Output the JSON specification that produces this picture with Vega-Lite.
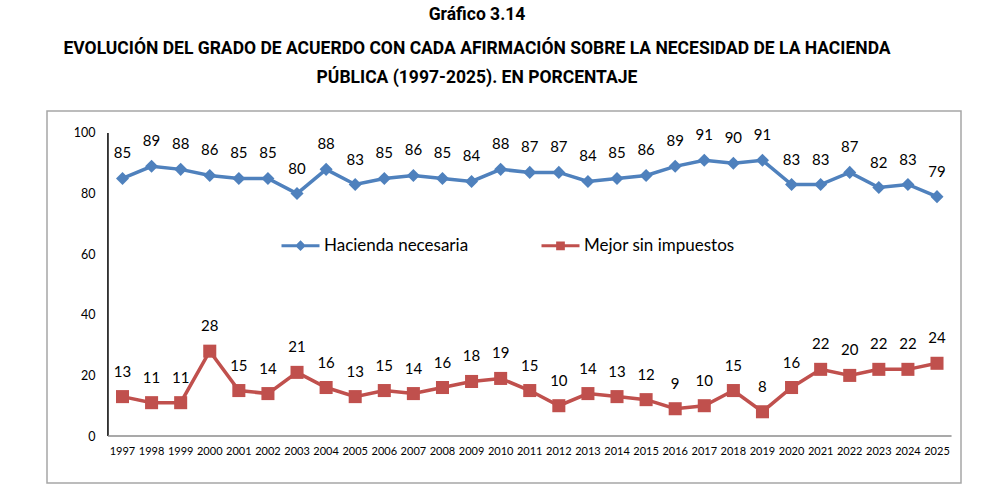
{
  "$schema": "https://vega.github.io/schema/vega-lite/v6.json",
  "autosize": "none",
  "width": 914,
  "height": 372,
  "padding": {"left": 47, "top": 111, "right": 45, "bottom": 12},
  "background": "white",
  "title": {
    "text": "Gráfico 3.14",
    "subtitle": [
      "EVOLUCIÓN DEL GRADO DE ACUERDO CON CADA AFIRMACIÓN SOBRE LA NECESIDAD DE LA HACIENDA",
      "PÚBLICA (1997-2025). EN PORCENTAJE"
    ],
    "anchor": "middle",
    "dx": -27,
    "offset": 25,
    "font": "Roboto",
    "fontSize": 17.5,
    "fontWeight": "bold",
    "color": "#000000",
    "subtitleFont": "Roboto",
    "subtitleFontSize": 17.5,
    "subtitleFontWeight": "bold",
    "subtitleColor": "#000000",
    "subtitlePadding": 16,
    "subtitleLineHeight": 29
  },
  "data": {
    "values": [
      {"year": 1997, "serie": "Hacienda necesaria", "value": 85},
      {"year": 1998, "serie": "Hacienda necesaria", "value": 89},
      {"year": 1999, "serie": "Hacienda necesaria", "value": 88},
      {"year": 2000, "serie": "Hacienda necesaria", "value": 86},
      {"year": 2001, "serie": "Hacienda necesaria", "value": 85},
      {"year": 2002, "serie": "Hacienda necesaria", "value": 85},
      {"year": 2003, "serie": "Hacienda necesaria", "value": 80},
      {"year": 2004, "serie": "Hacienda necesaria", "value": 88},
      {"year": 2005, "serie": "Hacienda necesaria", "value": 83},
      {"year": 2006, "serie": "Hacienda necesaria", "value": 85},
      {"year": 2007, "serie": "Hacienda necesaria", "value": 86},
      {"year": 2008, "serie": "Hacienda necesaria", "value": 85},
      {"year": 2009, "serie": "Hacienda necesaria", "value": 84},
      {"year": 2010, "serie": "Hacienda necesaria", "value": 88},
      {"year": 2011, "serie": "Hacienda necesaria", "value": 87},
      {"year": 2012, "serie": "Hacienda necesaria", "value": 87},
      {"year": 2013, "serie": "Hacienda necesaria", "value": 84},
      {"year": 2014, "serie": "Hacienda necesaria", "value": 85},
      {"year": 2015, "serie": "Hacienda necesaria", "value": 86},
      {"year": 2016, "serie": "Hacienda necesaria", "value": 89},
      {"year": 2017, "serie": "Hacienda necesaria", "value": 91},
      {"year": 2018, "serie": "Hacienda necesaria", "value": 90},
      {"year": 2019, "serie": "Hacienda necesaria", "value": 91},
      {"year": 2020, "serie": "Hacienda necesaria", "value": 83},
      {"year": 2021, "serie": "Hacienda necesaria", "value": 83},
      {"year": 2022, "serie": "Hacienda necesaria", "value": 87},
      {"year": 2023, "serie": "Hacienda necesaria", "value": 82},
      {"year": 2024, "serie": "Hacienda necesaria", "value": 83},
      {"year": 2025, "serie": "Hacienda necesaria", "value": 79},
      {"year": 1997, "serie": "Mejor sin impuestos", "value": 13},
      {"year": 1998, "serie": "Mejor sin impuestos", "value": 11},
      {"year": 1999, "serie": "Mejor sin impuestos", "value": 11},
      {"year": 2000, "serie": "Mejor sin impuestos", "value": 28},
      {"year": 2001, "serie": "Mejor sin impuestos", "value": 15},
      {"year": 2002, "serie": "Mejor sin impuestos", "value": 14},
      {"year": 2003, "serie": "Mejor sin impuestos", "value": 21},
      {"year": 2004, "serie": "Mejor sin impuestos", "value": 16},
      {"year": 2005, "serie": "Mejor sin impuestos", "value": 13},
      {"year": 2006, "serie": "Mejor sin impuestos", "value": 15},
      {"year": 2007, "serie": "Mejor sin impuestos", "value": 14},
      {"year": 2008, "serie": "Mejor sin impuestos", "value": 16},
      {"year": 2009, "serie": "Mejor sin impuestos", "value": 18},
      {"year": 2010, "serie": "Mejor sin impuestos", "value": 19},
      {"year": 2011, "serie": "Mejor sin impuestos", "value": 15},
      {"year": 2012, "serie": "Mejor sin impuestos", "value": 10},
      {"year": 2013, "serie": "Mejor sin impuestos", "value": 14},
      {"year": 2014, "serie": "Mejor sin impuestos", "value": 13},
      {"year": 2015, "serie": "Mejor sin impuestos", "value": 12},
      {"year": 2016, "serie": "Mejor sin impuestos", "value": 9},
      {"year": 2017, "serie": "Mejor sin impuestos", "value": 10},
      {"year": 2018, "serie": "Mejor sin impuestos", "value": 15},
      {"year": 2019, "serie": "Mejor sin impuestos", "value": 8},
      {"year": 2020, "serie": "Mejor sin impuestos", "value": 16},
      {"year": 2021, "serie": "Mejor sin impuestos", "value": 22},
      {"year": 2022, "serie": "Mejor sin impuestos", "value": 20},
      {"year": 2023, "serie": "Mejor sin impuestos", "value": 22},
      {"year": 2024, "serie": "Mejor sin impuestos", "value": 22},
      {"year": 2025, "serie": "Mejor sin impuestos", "value": 24}
    ]
  },
  "layer": [
    {
      "data": {"values": [{}]},
      "mark": {"type": "rule", "color": "#000000", "strokeWidth": 1.5},
      "encoding": {
        "x": {
          "datum": 1996.5,
          "type": "quantitative",
          "scale": {"domain": [1994.405, 2025.825], "nice": false, "zero": false},
          "axis": null
        },
        "y": {
          "datum": 0,
          "type": "quantitative",
          "scale": {"domain": [-15.51, 107.26], "nice": false, "zero": false},
          "axis": {
            "values": [0, 20, 40, 60, 80, 100],
            "offset": -50,
            "domain": false,
            "ticks": false,
            "tickSize": 0,
            "grid": false,
            "labelPadding": 2,
            "labelOverlap": false,
            "labelFont": "Lato",
            "labelFontSize": 12.5,
            "labelColor": "#000000",
            "title": null
          }
        },
        "y2": {"datum": 100}
      }
    },
    {
      "data": {"values": [{}]},
      "mark": {"type": "rule", "color": "#8c8c8c", "strokeWidth": 1.5},
      "encoding": {
        "x": {"datum": 1996.5, "type": "quantitative"},
        "x2": {"datum": 2025.5},
        "y": {"datum": 0, "type": "quantitative"}
      }
    },
    {
      "transform": [{"filter": "datum.serie === 'Hacienda necesaria'"}],
      "mark": {"type": "text", "baseline": "middle", "font": "Lato", "fontSize": 11, "color": "#000000"},
      "encoding": {
        "x": {"field": "year", "type": "quantitative"},
        "y": {"datum": -5.3, "type": "quantitative"},
        "text": {"field": "year", "type": "quantitative", "format": "d"}
      }
    },
    {
      "mark": {"type": "line", "strokeWidth": 3.5},
      "encoding": {
        "x": {"field": "year", "type": "quantitative"},
        "y": {"field": "value", "type": "quantitative"},
        "color": {
          "field": "serie",
          "type": "nominal",
          "scale": {
            "domain": ["Hacienda necesaria", "Mejor sin impuestos"],
            "range": ["#4F81BD", "#C0504D"]
          },
          "legend": {
            "orient": "none",
            "legendX": 233,
            "legendY": 114,
            "direction": "horizontal",
            "title": null,
            "columnPadding": 66,
            "labelFont": "Lato",
            "labelFontSize": 17,
            "labelColor": "#000000",
            "labelOffset": 3,
            "symbolSize": 1444,
            "encode": {
              "symbols": {
                "update": {
                  "shape": {"signal": "datum.value === 'Hacienda necesaria' ? 'M-1,0H1M0,-0.17L0.17,0L0,0.17L-0.17,0Z' : 'M-1,0H1M-0.15,-0.15H0.15V0.15H-0.15Z'"},
                  "fill": {"signal": "datum.value === 'Hacienda necesaria' ? '#4F81BD' : '#C0504D'"},
                  "stroke": {"signal": "datum.value === 'Hacienda necesaria' ? '#4F81BD' : '#C0504D'"},
                  "strokeWidth": {"value": 3}
                }
              }
            }
          }
        }
      }
    },
    {
      "transform": [{"filter": "datum.serie === 'Hacienda necesaria'"}],
      "mark": {"type": "point", "shape": "diamond", "filled": true, "opacity": 1, "size": 170},
      "encoding": {
        "x": {"field": "year", "type": "quantitative"},
        "y": {"field": "value", "type": "quantitative"},
        "color": {"field": "serie", "type": "nominal", "legend": null}
      }
    },
    {
      "transform": [{"filter": "datum.serie === 'Mejor sin impuestos'"}],
      "mark": {"type": "point", "shape": "square", "filled": true, "opacity": 1, "size": 170},
      "encoding": {
        "x": {"field": "year", "type": "quantitative"},
        "y": {"field": "value", "type": "quantitative"},
        "color": {"field": "serie", "type": "nominal", "legend": null}
      }
    },
    {
      "mark": {"type": "text", "dy": -25, "font": "Lato", "fontSize": 15, "color": "#000000"},
      "encoding": {
        "x": {"field": "year", "type": "quantitative"},
        "y": {"field": "value", "type": "quantitative"},
        "text": {"field": "value", "type": "quantitative"}
      }
    }
  ],
  "config": {
    "view": {"stroke": "#a6a6a6", "strokeWidth": 1.5},
    "axis": {"labelOverlap": false}
  }
}
